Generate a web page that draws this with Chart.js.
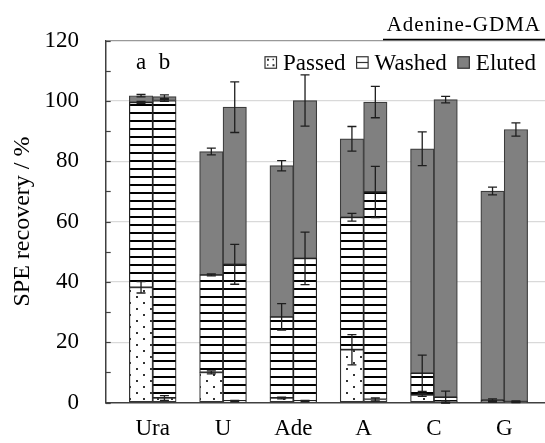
<!DOCTYPE html>
<html>
<head>
<meta charset="utf-8">
<script src="https://cdn.jsdelivr.net/npm/chart.js@4"></script>
<style>
  html, body { margin: 0; padding: 0; background: #fff; }
  canvas { display: block; }
</style>
</head>
<body>
<canvas id="chart" width="545" height="443"></canvas>
<script>
// Categories and series (values in %)
const categories = ['Ura', 'U', 'Ade', 'A', 'C', 'G'];
const seriesNames = ['Passed', 'Washed', 'Eluted'];
const barLabels = ['a', 'b'];

// bar "a"
const passedA = [38.2, 10.0, 1.5, 17.5, 2.5, 0.3];
const washedA = [61.3, 32.3, 26.9, 43.9, 7.2, 0.5];
const elutedA = [2.2, 40.9, 50.1, 26.0, 74.4, 69.3];
// bar "b"
const passedB = [1.5, 0.5, 0.5, 1.0, 0.3, 0.1];
const washedB = [98.6, 45.3, 47.3, 68.8, 1.5, 0.2];
const elutedB = [1.3, 52.1, 52.3, 29.8, 98.6, 90.2];

// error bars (drawn at the top of each segment)
const passedErrA = [1.9, 0.5, 0.3, 5.0, 0.5, 0.2];
const washedErrA = [0.3, 0.3, 4.4, 1.3, 6.0, 0.4];
const elutedErrA = [0.4, 1.1, 1.7, 4.1, 5.6, 1.3];
const passedErrB = [0.8, 0.2, 0.2, 0.5, 0.3, 0.1];
const washedErrB = [0.3, 6.6, 8.7, 8.5, 2.0, 0.2];
const elutedErrB = [0.6, 8.4, 8.5, 5.2, 1.1, 2.2];

const yTicks = [0, 20, 40, 60, 80, 100, 120];

const FONT = "'Liberation Serif', 'Times New Roman', serif";
const canvas = document.getElementById('chart');
const ctx = canvas.getContext('2d');

// Fill patterns
function dotPattern() {
    const c = document.createElement('canvas');
    c.width = 14; c.height = 12;
    const g = c.getContext('2d');
    g.fillStyle = '#fff';
    g.fillRect(0, 0, 14, 12);
    g.fillStyle = '#333';
    g.fillRect(3, 2, 2, 2);
    g.fillRect(10, 8, 2, 2);
    return ctx.createPattern(c, 'repeat');
}
function hatchPattern() {
    const c = document.createElement('canvas');
    c.width = 8; c.height = 8;
    const g = c.getContext('2d');
    g.fillStyle = '#fff';
    g.fillRect(0, 0, 8, 8);
    g.fillStyle = '#000';
    g.fillRect(0, 0, 8, 2);
    return ctx.createPattern(c, 'repeat');
}
const fills = [dotPattern(), hatchPattern(), '#808080'];
const borders = ['#333', '#222', '#3c3c3c'];

const seriesA = [passedA, washedA, elutedA];
const seriesB = [passedB, washedB, elutedB];
const errors = [passedErrA, washedErrA, elutedErrA, passedErrB, washedErrB, elutedErrB];

const datasets = [];
[seriesA, seriesB].forEach((group, g) => {
    group.forEach((vals, s) => {
        datasets.push({
            label: seriesNames[s],
            stack: barLabels[g],
            data: vals.map((v, i) => ({ x: i, y: v })),
            backgroundColor: fills[s],
            borderColor: borders[s],
            borderWidth: 1.2,
            borderSkipped: false,
            barThickness: 23.4
        });
    });
});

// Error bars, inward minor ticks, legend and texts
const extras = {
    id: 'extras',
    afterDatasetsDraw(chart) {
        const c = chart.ctx;
        const y = chart.scales.y;
        c.save();
        c.strokeStyle = '#1e1e1e';
        c.lineWidth = 1.3;
        chart.data.datasets.forEach((ds, di) => {
            const meta = chart.getDatasetMeta(di);
            const first = di < 3 ? 0 : 3;
            ds.data.forEach((pt, i) => {
                let top = 0;
                for (let k = first; k <= di; k++) top += chart.data.datasets[k].data[i].y;
                const err = errors[di][i];
                const x = meta.data[i].x;
                const y1 = y.getPixelForValue(top + err);
                const y2 = y.getPixelForValue(top - err);
                c.beginPath();
                c.moveTo(x, y1); c.lineTo(x, y2);
                c.moveTo(x - 4.5, y1); c.lineTo(x + 4.5, y1);
                c.moveTo(x - 4.5, y2); c.lineTo(x + 4.5, y2);
                c.stroke();
            });
        });
        c.restore();
    },
    afterDraw(chart) {
        const c = chart.ctx;
        const y = chart.scales.y;
        const area = chart.chartArea;
        c.save();
        // minor ticks pointing inside
        c.strokeStyle = '#404040';
        c.lineWidth = 1.2;
        for (let v = 0; v <= 120; v += 10) {
            const py = Math.round(y.getPixelForValue(v)) + 0.5;
            c.beginPath();
            c.moveTo(area.left, py);
            c.lineTo(area.left + 5, py);
            c.stroke();
        }
        // "a" / "b" above the first pair
        c.fillStyle = '#000';
        c.font = '23px ' + FONT;
        c.textAlign = 'center';
        c.textBaseline = 'middle';
        c.fillText(barLabels[0], chart.getDatasetMeta(0).data[0].x, 63);
        c.fillText(barLabels[1], chart.getDatasetMeta(3).data[0].x, 63);
        // legend
        let lx = 265;
        const ly = 62.5, box = 11.5;
        c.textAlign = 'left';
        seriesNames.forEach((name, s) => {
            const bx = lx, by = ly - box / 2;
            c.fillStyle = s === 2 ? '#808080' : '#fff';
            c.fillRect(bx, by, box, box);
            c.fillStyle = '#333';
            if (s === 0) {
                c.fillRect(bx + 2, by + 2, 2, 2);
                c.fillRect(bx + box - 4, by + box - 4, 2, 2);
                c.fillRect(bx + box - 4, by + 2, 1.5, 1.5);
                c.fillRect(bx + 2, by + box - 4, 1.5, 1.5);
            }
            c.strokeStyle = '#333';
            c.lineWidth = 1.2;
            c.strokeRect(bx, by, box, box);
            if (s === 1) {
                c.beginPath();
                c.moveTo(bx, ly); c.lineTo(bx + box, ly);
                c.stroke();
            }
            c.fillStyle = '#000';
            c.fillText(name, bx + box + 6.5, ly + 1);
            lx = bx + box + 6.5 + c.measureText(name).width + 11;
        });
        // panel caption
        c.font = '21px ' + FONT;
        c.letterSpacing = '1px';
        c.textAlign = 'right';
        c.textBaseline = 'alphabetic';
        c.fillText('Adenine-GDMA', 541, 31);
        c.strokeStyle = '#000';
        c.lineWidth = 1.5;
        c.beginPath();
        c.moveTo(383, 39.5);
        c.lineTo(545, 39.5);
        c.stroke();
        c.restore();
    }
};

new Chart(ctx, {
    type: 'bar',
    data: { datasets },
    plugins: [extras],
    options: {
        responsive: false,
        animation: false,
        layout: { padding: { top: 39, right: 0, left: 0, bottom: 0 } },
        plugins: {
            legend: { display: false },
            tooltip: { enabled: false }
        },
        scales: {
            x: {
                type: 'linear',
                stacked: true,
                offset: false,
                min: -0.669,
                max: 5.58,
                afterBuildTicks: s => { s.ticks = categories.map((c, i) => ({ value: i })); },
                afterFit: s => { s.height = 36.7; },
                grid: { display: false, drawTicks: false },
                border: { color: '#404040', width: 1.5 },
                ticks: {
                    autoSkip: false,
                    maxRotation: 0,
                    padding: 13,
                    color: '#000',
                    font: { family: FONT, size: 23 },
                    callback: v => categories[v]
                }
            },
            y: {
                stacked: true,
                min: 0,
                max: 120,
                afterBuildTicks: s => { s.ticks = yTicks.map(v => ({ value: v })); },
                afterFit: s => { s.width = 105.7; },
                grid: {
                    drawTicks: false,
                    lineWidth: 1.3,
                    color: c => c.tick.value === 120 ? '#999' : (c.tick.value === 0 ? 'rgba(0,0,0,0)' : '#d9d9d9')
                },
                border: { color: '#404040', width: 1.5 },
                ticks: {
                    padding: 26.7,
                    color: '#000',
                    font: { family: FONT, size: 23 }
                },
                title: {
                    display: true,
                    text: 'SPE recovery / %',
                    color: '#000',
                    font: { family: FONT, size: 24 },
                    padding: { top: 8.6, bottom: 0 }
                }
            }
        }
    }
});
</script>
</body>
</html>
